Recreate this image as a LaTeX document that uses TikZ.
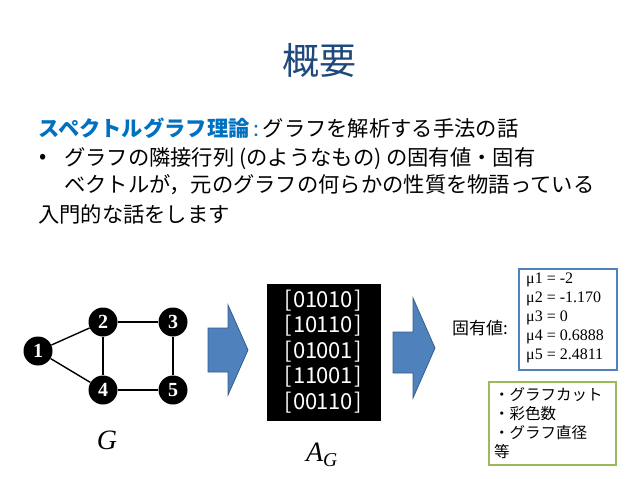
\documentclass[tikz,border=0pt]{standalone}
\usepackage{fontspec}
\setmainfont{Noto Sans CJK JP}
\newfontfamily\lserif{Liberation Serif}
\definecolor{ttl}{RGB}{31,73,125}
\definecolor{hl}{RGB}{0,112,192}
\definecolor{arrfill}{RGB}{79,129,189}
\definecolor{arrdraw}{RGB}{56,93,138}
\definecolor{boxblue}{RGB}{79,129,189}
\definecolor{boxgreen}{RGB}{155,187,89}
\newcommand\mcell[1]{\makebox[11.6pt]{#1}}
\newcommand\mrow[5]{\mcell{[}\mcell{#1}\mcell{#2}\mcell{#3}\mcell{#4}\mcell{#5}\mcell{]}}
\begin{document}
\begin{tikzpicture}[x=1pt,y=-1pt,
  body/.style={anchor=west,inner sep=0pt,font=\fontsize{21.3}{25}\selectfont},
  vtx/.style={circle,fill=black,minimum size=29pt,inner sep=0pt,text=white,font=\lserif\bfseries\fontsize{20}{20}\selectfont},
  edge/.style={line width=1.4pt},
  blockarrow/.style={fill=arrfill,draw=arrdraw,line width=0.8pt},
  vlabel/.style={font=\lserif\itshape\fontsize{28}{28}\selectfont}]
\useasboundingbox (0,0) rectangle (638,479);
\fill[white] (0,0) rectangle (638,479);
% title
\node[text=ttl,font=\fontsize{37}{37}\selectfont] (title) at (319,60) {概要};
% body text
\node[body] (l1) at (38,128) {{\color{hl}\bfseries スペクトルグラフ理論}{\color{hl}\,:\,}グラフを解析する手法の話};
\node[body] (bul) at (39,159) {•};
\node[body] (l2) at (64,159) {グラフの隣接行列 (のようなもの) の固有値・固有};
\node[body] (l3) at (64,185) {ベクトルが，元のグラフの何らかの性質を物語っている};
\node[body] (l4) at (38,214) {入門的な話をします};
% graph
\node[vtx] (n1) at (38,351) {1};
\node[vtx] (n2) at (103,322) {2};
\node[vtx] (n3) at (173,322) {3};
\node[vtx] (n4) at (103,390) {4};
\node[vtx] (n5) at (173,390) {5};
\draw[edge] (n1) -- (n2);
\draw[edge] (n1) -- (n4);
\draw[edge] (n2) -- (n3);
\draw[edge] (n2) -- (n4);
\draw[edge] (n3) -- (n5);
\draw[edge] (n4) -- (n5);
\node[vlabel] (G) at (107,440) {G};
% arrow 1
\draw[blockarrow] (208,328) -- (228,328) -- (228,305) -- (248,350) -- (228,395) -- (228,372) -- (208,372) -- cycle;
% matrix
\node[fill=black,minimum width=114pt,minimum height=137pt,inner sep=0pt] (mat) at (324,352.5) {};
\node[text=white,align=center,inner sep=0pt,font=\fontsize{22}{25.5}\selectfont] (rows) at (323,351.5)
  {\mrow01010\\\mrow10110\\\mrow01001\\\mrow11001\\\mrow00110};
\node[font=\lserif\itshape\fontsize{28}{28}\selectfont] (AG) at (322,455) {A\textsubscript{G}};
% arrow 2
\draw[blockarrow] (393,332) -- (413,332) -- (413,298) -- (435,348) -- (413,398) -- (413,373) -- (393,373) -- cycle;
% eigenvalues
\node[anchor=west,inner sep=0pt,font=\fontsize{17}{17}\selectfont] (eig) at (452,328) {固有値:};
\node[draw=boxblue,line width=1.5pt,minimum width=98pt,minimum height=101pt,inner sep=0pt] (ebox) at (568,319.5) {};
\node[anchor=west,align=left,inner sep=0pt,font=\lserif\fontsize{16}{19}\selectfont] (evals) at (526,318)
  {μ1 = -2\\μ2 = -1.170\\μ3 = 0\\μ4 = 0.6888\\μ5 = 2.4811};
% properties
\node[draw=boxgreen,line width=1.5pt,minimum width=127pt,minimum height=83pt,inner sep=0pt] (pbox) at (552.5,423.5) {};
\node[anchor=west,align=left,inner sep=0pt,font=\fontsize{15.5}{19}\selectfont] (props) at (494,423.5)
  {・グラフカット\\・彩色数\\・グラフ直径\\等};
\end{tikzpicture}
\end{document}
